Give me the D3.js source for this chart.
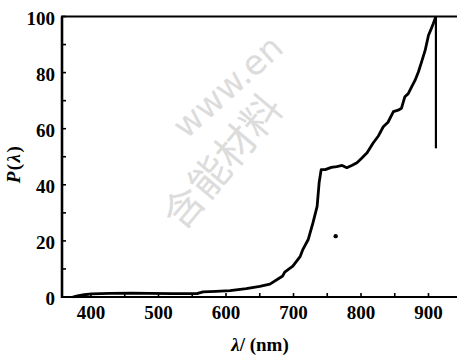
<!DOCTYPE html>
<html><head><meta charset="utf-8">
<script src="https://cdn.jsdelivr.net/npm/d3@7"></script>
<style>body{margin:0;background:#fff}svg{display:block}</style>
</head><body>
<script>
// Data
const wavelength = [373,380,390,401,428,460,487,520,557,566,585,606,630,650,665,684,687,699,710,714,722,729,735,738,741,747,756,764,772,779,787,794,801,809,818,826,833,840,848,855,860,865,870,875,880,885,890,895,900,904,907,911];
const power      = [0,0.4,0.8,1.1,1.3,1.4,1.3,1.2,1.2,1.8,2.0,2.3,3.0,3.8,4.6,7.5,8.9,11,14.5,17,20.6,26.6,32.3,40.8,45.4,45.4,46.2,46.5,46.9,46.1,47.0,47.9,49.5,51.4,54.9,57.5,60.7,62.3,66.1,66.6,67.3,71.4,72.5,74.9,77.2,80.2,84,87.9,93.3,95.6,97.4,100];
const cutoff = {lambda: 911, from: 100, to: 53};
const strayDot = {lambda: 762.5, value: 21.7};
const xTicks = [400,500,600,700,800,900];
const xMinor = [450,550,650,750,850];
const yTicks = [0,20,40,60,80,100];
const yMinor = [10,30,50,70,90];

const W = 457, H = 357;
const svg = d3.select("body").append("svg").attr("width", W).attr("height", H);

// watermark
svg.append("text").attr("transform","translate(186,140) rotate(-42)")
  .attr("font-family","DejaVu Sans").attr("font-size",34).attr("fill","#dcdcdc")
  .text("www.en");
svg.append("text").attr("transform","translate(182,232) rotate(-50)")
  .attr("font-family","Noto Sans CJK SC").attr("font-size",40).attr("fill","#dcdcdc")
  .text("含能材料");

const x = d3.scaleLinear().domain([900 - 366.5/0.675, 900 + 28.5/0.675]).range([62, 457]);
const y = d3.scaleLinear().domain([0, 100]).range([297, 16.5]);

const serif = "Liberation Serif";

// axes lines
svg.append("line").attr("x1",62).attr("x2",62).attr("y1",y(100)).attr("y2",y(0)+1).attr("stroke","#000").attr("stroke-width",2.6);
svg.append("line").attr("x1",61).attr("x2",W).attr("y1",y(0)).attr("y2",y(0)).attr("stroke","#000").attr("stroke-width",2);
svg.append("line").attr("x1",61).attr("x2",W).attr("y1",y(100)).attr("y2",y(100)).attr("stroke","#000").attr("stroke-width",2);

// ticks (inward)
const tg = svg.append("g").attr("stroke","#000").attr("stroke-width",1.6);
xTicks.concat(xMinor).forEach(v=>{
  tg.append("line").attr("x1",x(v)).attr("x2",x(v)).attr("y1",y(0)).attr("y2",y(0)-4);
});
yTicks.concat(yMinor).forEach(v=>{
  tg.append("line").attr("x1",62).attr("x2",66).attr("y1",y(v)).attr("y2",y(v));
});

// tick labels
svg.append("g").selectAll("text").data(xTicks).join("text")
  .attr("x",d=>x(d)).attr("y",319).attr("text-anchor","middle")
  .attr("font-family",serif).attr("font-weight","bold").attr("font-size",19).text(d=>d);
svg.append("g").selectAll("text").data(yTicks).join("text")
  .attr("x",55).attr("y",d=>y(d)+8).attr("text-anchor","end")
  .attr("font-family",serif).attr("font-weight","bold").attr("font-size",19).text(d=>d);

// axis titles
svg.append("text").attr("transform","translate(20,164) rotate(-90)").attr("text-anchor","middle")
  .attr("font-family",serif).attr("font-weight","bold").attr("font-size",19).attr("letter-spacing",1.5)
  .html('<tspan font-style="italic">P</tspan>(<tspan font-style="italic">λ</tspan>)');
svg.append("text").attr("x",260).attr("y",351).attr("text-anchor","middle")
  .attr("font-family",serif).attr("font-weight","bold").attr("font-size",19)
  .html('<tspan font-style="italic">λ</tspan>/ (nm)');

// curve
const pts = wavelength.map((w,i)=>[w, power[i]]);
svg.append("path").datum(pts)
  .attr("d", d3.line().x(d=>x(d[0])).y(d=>y(d[1])))
  .attr("fill","none").attr("stroke","#000").attr("stroke-width",2.8).attr("stroke-linejoin","round");

// cutoff vertical line
svg.append("line").attr("x1",x(cutoff.lambda)).attr("x2",x(cutoff.lambda))
  .attr("y1",y(cutoff.from)).attr("y2",y(cutoff.to)).attr("stroke","#000").attr("stroke-width",2.2);

// stray dot
svg.append("circle").attr("cx",x(strayDot.lambda)).attr("cy",y(strayDot.value)).attr("r",2.2).attr("fill","#000");
</script>
</body></html>
